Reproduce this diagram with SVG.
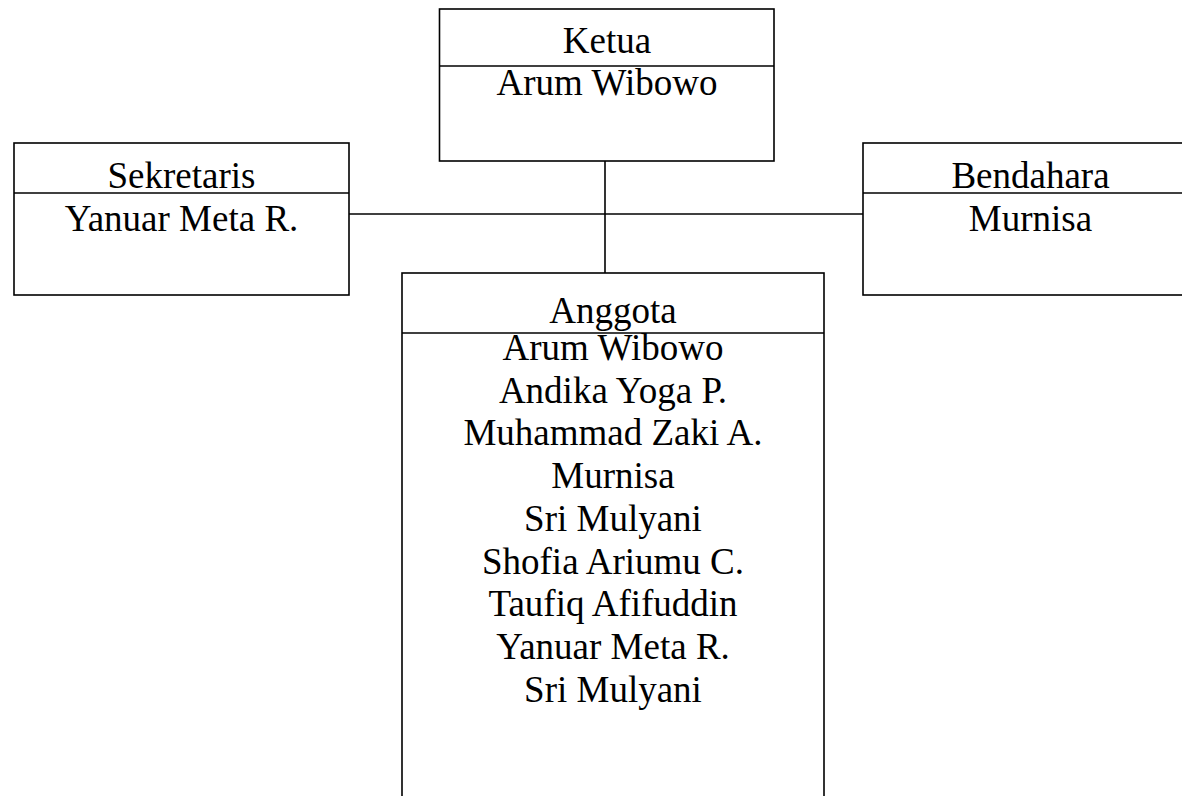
<svg xmlns="http://www.w3.org/2000/svg" width="1182" height="796" viewBox="0 0 1182 796">
<style>
.box{fill:#fff;stroke:#000;stroke-width:1.6}
.ln{stroke:#000;stroke-width:1.6;fill:none}
text{font-family:"Liberation Serif","Times New Roman",serif;font-size:37px;fill:#000;text-anchor:middle}
</style>
<rect width="1182" height="796" fill="#fff"/>
<g id="connectors">
<line class="ln" x1="605" y1="161" x2="605" y2="273"/>
<line class="ln" x1="349" y1="214" x2="863" y2="214"/>
</g>
<g id="ketua">
<rect class="box" x="439.5" y="9" width="334.5" height="152"/>
<line class="ln" x1="439.5" y1="66" x2="774" y2="66"/>
<text x="607" y="53">Ketua</text>
<text x="607" y="95">Arum Wibowo</text>
</g>
<g id="sekretaris">
<rect class="box" x="14" y="143" width="335" height="152"/>
<line class="ln" x1="14" y1="193" x2="349" y2="193"/>
<text x="181.5" y="188">Sekretaris</text>
<text x="181.5" y="231">Yanuar Meta R.</text>
</g>
<g id="bendahara">
<rect class="box" x="863" y="143" width="335" height="152"/>
<line class="ln" x1="863" y1="193" x2="1198" y2="193"/>
<text x="1030.5" y="188">Bendahara</text>
<text x="1030.5" y="231">Murnisa</text>
</g>
<g id="anggota">
<rect class="box" x="402" y="273" width="422" height="560"/>
<line class="ln" x1="402" y1="333" x2="824" y2="333"/>
<text x="613" y="323">Anggota</text>
<text x="613" y="360">Arum Wibowo</text>
<text x="613" y="402.7">Andika Yoga P.</text>
<text x="613" y="445.4">Muhammad Zaki A.</text>
<text x="613" y="488.1">Murnisa</text>
<text x="613" y="530.8">Sri Mulyani</text>
<text x="613" y="573.5">Shofia Ariumu C.</text>
<text x="613" y="616.2">Taufiq Afifuddin</text>
<text x="613" y="658.9">Yanuar Meta R.</text>
<text x="613" y="701.6">Sri Mulyani</text>
</g>
</svg>
